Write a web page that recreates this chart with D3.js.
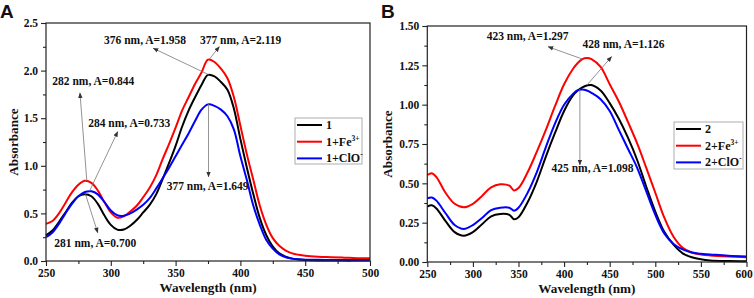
<!DOCTYPE html>
<html>
<head>
<meta charset="utf-8">
<script src="https://cdn.jsdelivr.net/npm/d3@7"></script>
<style>
    body { margin: 0; background: #fff; }
    svg text { font-family: "Liberation Serif", "Times New Roman", serif; font-weight: bold; fill: #111; }
    svg text.letter { font-family: "Liberation Sans", Arial, sans-serif; }
</style>
</head>
<body>
<div id="chart"></div>
<script>
            // ---- Panel A data (compound 1) ----
            var wlA = [250, 255, 260, 265, 270, 275, 280, 285, 290, 295, 300, 305, 310, 315, 320, 325,
                330, 335, 340, 345, 350, 355, 360, 365, 370, 375, 380, 385, 390, 395, 400, 405,
                410, 415, 420, 425, 430, 435, 440, 445, 450, 460, 470, 480, 490, 500];
            var absA1 = [0.27, 0.32, 0.41, 0.51, 0.61, 0.68, 0.70, 0.68, 0.60, 0.48, 0.38, 0.33, 0.33, 0.37, 0.43, 0.51,
                0.59, 0.70, 0.86, 1.03, 1.21, 1.41, 1.58, 1.72, 1.85, 1.955, 1.94, 1.88, 1.80, 1.60, 1.28, 0.98,
                0.70, 0.45, 0.27, 0.15, 0.08, 0.045, 0.025, 0.015, 0.01, 0.006, 0.005, 0.004, 0.004, 0.004];
            var absA1Fe = [0.39, 0.42, 0.50, 0.61, 0.72, 0.80, 0.842, 0.82, 0.74, 0.62, 0.51, 0.455, 0.47, 0.52, 0.58, 0.67,
                0.77, 0.90, 1.07, 1.23, 1.40, 1.58, 1.72, 1.86, 1.98, 2.115, 2.09, 2.02, 1.92, 1.72, 1.42, 1.12,
                0.85, 0.58, 0.38, 0.24, 0.16, 0.11, 0.08, 0.065, 0.055, 0.045, 0.04, 0.035, 0.03, 0.028];
            var absA1ClO = [0.25, 0.30, 0.39, 0.50, 0.60, 0.68, 0.725, 0.732, 0.70, 0.62, 0.53, 0.48, 0.475, 0.50, 0.54, 0.59,
                0.66, 0.76, 0.87, 0.98, 1.10, 1.22, 1.34, 1.47, 1.59, 1.645, 1.63, 1.59, 1.52, 1.38, 1.10, 0.85,
                0.58, 0.38, 0.22, 0.13, 0.07, 0.04, 0.025, 0.018, 0.014, 0.012, 0.011, 0.01, 0.01, 0.01];
            var xTicksA = [250, 300, 350, 400, 450, 500];
            var yTicksA = [0, 0.5, 1.0, 1.5, 2.0, 2.5];
            var legendA = [["1", ""], ["1+Fe", "3+"], ["1+ClO", "-"]];

            // ---- Panel B data (compound 2) ----
            var wlB = [250, 255, 260, 270, 280, 290, 300, 310, 320, 330, 340, 345, 350, 360, 370, 380,
                390, 400, 410, 415, 420, 425, 430, 440, 450, 460, 470, 480, 490, 500, 510, 520,
                530, 540, 550, 560, 580, 600];
            var absB2 = [0.352, 0.36, 0.34, 0.26, 0.19, 0.167, 0.19, 0.24, 0.29, 0.305, 0.30, 0.272, 0.285, 0.38, 0.51, 0.67,
                0.82, 0.96, 1.06, 1.09, 1.11, 1.122, 1.125, 1.09, 1.01, 0.91, 0.79, 0.65, 0.48, 0.32, 0.19, 0.11,
                0.055, 0.03, 0.017, 0.01, 0.006, 0.005];
            var absB2Fe = [0.553, 0.564, 0.54, 0.44, 0.37, 0.348, 0.37, 0.42, 0.475, 0.494, 0.485, 0.455, 0.47, 0.57, 0.70, 0.84,
                0.99, 1.13, 1.23, 1.265, 1.29, 1.297, 1.29, 1.24, 1.13, 1.02, 0.89, 0.755, 0.60, 0.44, 0.28, 0.16,
                0.09, 0.06, 0.048, 0.042, 0.035, 0.03];
            var absB2ClO = [0.405, 0.41, 0.39, 0.31, 0.235, 0.21, 0.235, 0.28, 0.33, 0.345, 0.345, 0.326, 0.345, 0.44, 0.57, 0.73,
                0.88, 1.00, 1.07, 1.092, 1.097, 1.09, 1.075, 1.035, 0.96, 0.84, 0.72, 0.60, 0.45, 0.30, 0.18, 0.115,
                0.08, 0.06, 0.052, 0.048, 0.04, 0.035];
            var xTicksB = [250, 300, 350, 400, 450, 500, 550, 600];
            var yTicksB = [0, 0.25, 0.5, 0.75, 1.0, 1.25, 1.5];
            var legendB = [["2", ""], ["2+Fe", "3+"], ["2+ClO", "-"]];

            var colors = ["#000000", "#ff0000", "#0000ff"];

            var w = 754;
            var h = 298;

            var svg = d3.select("#chart")
                .append("svg")
                .attr("width", w)
                .attr("height", h);

            // arrowhead used by the annotations
            svg.append("defs").append("marker")
                .attr("id", "arrow")
                .attr("viewBox", "0 0 10 10")
                .attr("refX", 9)
                .attr("refY", 5)
                .attr("markerWidth", 7)
                .attr("markerHeight", 7)
                .attr("orient", "auto")
                .append("path")
                .attr("d", "M0,1L10,5L0,9Z")
                .attr("fill", "#333");

            function drawPanel(p) {
                var g = svg.append("g");

                var x = d3.scaleLinear().domain(p.xDomain).range([p.left, p.right]);
                var y = d3.scaleLinear().domain(p.yDomain).range([p.bottom, p.top]);

                // minor ticks first, then major ticks with labels
                var xMinor = d3.range(p.xDomain[0], p.xDomain[1] + 1, p.xStep / 2)
                    .filter(function(d) { return p.xTicks.indexOf(d) < 0; });
                var yMinor = d3.range(p.yDomain[0], p.yDomain[1] + 1e-6, p.yStep / 2)
                    .filter(function(d) {
                        return !p.yTicks.some(function(t) { return Math.abs(t - d) < 1e-6; });
                    });

                g.append("g")
                    .attr("transform", "translate(0," + p.bottom + ")")
                    .call(d3.axisBottom(x).tickValues(xMinor).tickSize(3).tickSizeOuter(0).tickFormat(""));
                var xAxisG = g.append("g")
                    .attr("transform", "translate(0," + p.bottom + ")")
                    .call(d3.axisBottom(x).tickValues(p.xTicks).tickSize(5).tickSizeOuter(0).tickPadding(3));
                g.append("g")
                    .attr("transform", "translate(" + p.left + ",0)")
                    .call(d3.axisLeft(y).tickValues(yMinor).tickSize(3).tickSizeOuter(0).tickFormat(""));
                g.append("g")
                    .attr("transform", "translate(" + p.left + ",0)")
                    .call(d3.axisLeft(y).tickValues(p.yTicks).tickSize(5).tickSizeOuter(0).tickPadding(3)
                        .tickFormat(d3.format(p.yFormat)));

                g.selectAll(".domain").remove();
                g.selectAll(".tick line").attr("stroke", "#222").attr("stroke-width", 1.1);
                g.selectAll(".tick text").attr("font-size", "11.5px").attr("fill", "#111");

                // keep the last x label inside the page
                if (p.lastLabelShift) {
                    xAxisG.selectAll(".tick text")
                        .filter(function(d) { return d === p.xDomain[1]; })
                        .attr("dx", p.lastLabelShift);
                }

                // spectra
                var line = d3.line()
                    .x(function(d) { return x(d[0]); })
                    .y(function(d) { return y(d[1]); })
                    .curve(d3.curveCatmullRom.alpha(0.5));

                p.series.forEach(function(s, i) {
                    var pts = p.wl.map(function(wl, j) { return [wl, s[j]]; });
                    g.append("path")
                        .datum(pts)
                        .attr("d", line)
                        .attr("fill", "none")
                        .attr("stroke", colors[i])
                        .attr("stroke-width", 2);
                });

                // frame
                g.append("rect")
                    .attr("x", p.left)
                    .attr("y", p.top)
                    .attr("width", p.right - p.left)
                    .attr("height", p.bottom - p.top)
                    .attr("fill", "none")
                    .attr("stroke", "#222")
                    .attr("stroke-width", 1.2);

                // annotations
                p.notes.forEach(function(n) {
                    g.append("line")
                        .attr("x1", x(n.from[0])).attr("y1", y(n.from[1]))
                        .attr("x2", x(n.to[0])).attr("y2", y(n.to[1]))
                        .attr("stroke", "#777")
                        .attr("stroke-width", 0.8)
                        .attr("marker-end", "url(#arrow)");
                    g.append("text")
                        .attr("x", x(n.at[0]))
                        .attr("y", y(n.at[1]))
                        .attr("font-size", "11.5px")
                        .text(n.text);
                });

                // legend
                var lg = g.append("g");
                lg.append("rect")
                    .attr("x", p.legend.x)
                    .attr("y", p.legend.y)
                    .attr("width", p.legend.w)
                    .attr("height", p.legend.h)
                    .attr("fill", "#fff")
                    .attr("stroke", "#999")
                    .attr("stroke-width", 0.8);
                p.labels.forEach(function(lab, i) {
                    var ry = p.legend.y + 7 + i * 16.7;
                    lg.append("line")
                        .attr("x1", p.legend.x + 2).attr("x2", p.legend.x + 27)
                        .attr("y1", ry).attr("y2", ry)
                        .attr("stroke", colors[i])
                        .attr("stroke-width", 2);
                    var t = lg.append("text")
                        .attr("x", p.legend.x + 31)
                        .attr("y", ry + 4)
                        .attr("font-size", "12px")
                        .text(lab[0]);
                    if (lab[1]) {
                        t.append("tspan")
                            .attr("dy", -5)
                            .attr("font-size", "7.5px")
                            .text(lab[1]);
                    }
                });

                // axis titles
                g.append("text")
                    .attr("x", (p.left + p.right) / 2)
                    .attr("y", p.bottom + 31)
                    .attr("text-anchor", "middle")
                    .attr("font-size", "13.2px")
                    .text("Wavelength (nm)");
                g.append("text")
                    .attr("transform", "translate(" + p.yTitleX + "," + (p.top + p.bottom) / 2 + ") rotate(-90)")
                    .attr("text-anchor", "middle")
                    .attr("font-size", "13.2px")
                    .text("Absorbance");

                // panel letter
                g.append("text")
                    .attr("class", "letter")
                    .attr("x", p.letterX)
                    .attr("y", 17.5)
                    .attr("font-size", "19px")
                    .text(p.letter);
            }

            drawPanel({
                letter: "A", letterX: 0,
                left: 46, right: 370, top: 23, bottom: 261, yTitleX: 18,
                xDomain: [250, 500], yDomain: [0, 2.5], xStep: 50, yStep: 0.5,
                xTicks: xTicksA, yTicks: yTicksA, yFormat: ".1f",
                wl: wlA, series: [absA1, absA1Fe, absA1ClO], labels: legendA,
                legend: { x: 295, y: 118, w: 67, h: 46 },
                notes: [
                    { text: "376 nm, A=1.958", from: [375.4, 1.958], to: [332.8, 2.234], at: [294.8, 2.279] },
                    { text: "377 nm, A=2.119", from: [376, 2.119], to: [383.7, 2.251], at: [368.8, 2.279] },
                    { text: "282 nm, A=0.844", from: [281.5, 0.844], to: [276.2, 1.765], at: [254.9, 1.849] },
                    { text: "284 nm, A=0.733", from: [283.5, 0.733], to: [305.3, 1.358], at: [282.6, 1.411] },
                    { text: "281 nm, A=0.700", from: [280.5, 0.700], to: [289.9, 0.297], at: [256.4, 0.147] },
                    { text: "377 nm, A=1.649", from: [375.4, 1.649], to: [375.4, 0.885], at: [343.1, 0.746] }
                ]
            });

            drawPanel({
                letter: "B", letterX: 381,
                left: 427.3, right: 746.5, top: 26, bottom: 262, yTitleX: 392,
                xDomain: [250, 600], yDomain: [0, 1.5], xStep: 50, yStep: 0.25,
                xTicks: xTicksB, yTicks: yTicksB, yFormat: ".2f", lastLabelShift: -3,
                wl: wlB, series: [absB2, absB2Fe, absB2ClO], labels: legendB,
                legend: { x: 674, y: 122, w: 69, h: 47 },
                notes: [
                    { text: "423 nm, A=1.297", from: [420, 1.29], to: [382.5, 1.368], at: [315.1, 1.411] },
                    { text: "428 nm, A=1.126", from: [425, 1.124], to: [452, 1.305], at: [420.2, 1.358] },
                    { text: "425 nm, A=1.098", from: [417.3, 1.098], to: [417.3, 0.617], at: [386.3, 0.570] }
                ]
            });
</script>
</body>
</html>
